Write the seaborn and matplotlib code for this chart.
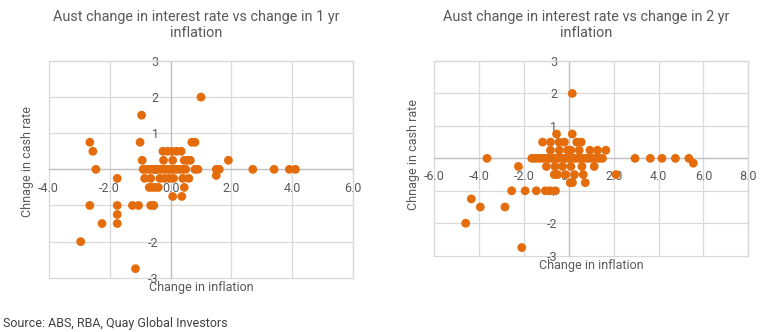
import matplotlib
matplotlib.use("Agg")
import matplotlib.pyplot as plt
import seaborn as sns
import pandas as pd

# ---------------- data ----------------
titles = ["Aust change in interest rate vs change in 1 yr\ninflation",
          "Aust change in interest rate vs change in 2 yr\ninflation"]
x_label = "Change in inflation"
y_label = "Chnage in cash rate"
source = "Source: ABS, RBA, Quay Global Investors"

x_ticks_1 = [-4.0, -2.0, 0.0, 2.0, 4.0, 6.0]
x_ticks_2 = [-6.0, -4.0, -2.0, 0.0, 2.0, 4.0, 6.0, 8.0]
y_ticks = [-3, -2, -1, 0, 1, 2, 3]

# 1 yr inflation change vs cash rate change
infl_1yr = [1.0, -0.95, -2.65, -2.55, -2.45, -1.0, -0.93, -1.75, -2.65, -1.75,
            -1.75, -1.75, -2.25, -2.95, -1.15, -1.25, -1.05, -0.65, -0.55, 0.7,
            0.8, 1.9, 1.5, 1.5, 1.6, 2.7, 3.4, 3.9, 4.1, 0.8, 0.9,
            -0.9, -0.8, -0.7, -0.6, -0.5, -0.4, -0.3, -0.2, -0.1, 0.0, 0.1, 0.2, 0.3, 0.4, 0.5,
            -0.25, -0.1, 0.05, 0.2, 0.35,
            -0.23, 0.07, 0.45, 0.55, 0.65,
            -0.85, -0.65, -0.35, -0.2, -0.05, 0.1, 0.4, 0.6,
            -0.7, -0.6, -0.5, -0.4, 0.45,
            0.07, 0.37]
cash_1yr = [2.0, 1.5, 0.75, 0.5, 0.0, 0.75, 0.25, -0.25, -1.0, -1.0,
            -1.25, -1.5, -1.5, -2.0, -2.75, -1.0, -1.0, -1.0, -1.0, 0.75,
            0.75, 0.25, -0.17, 0.0, 0.0, 0.0, 0.0, 0.0, 0.0, 0.0, 0.0,
            0, 0, 0, 0, 0, 0, 0, 0, 0, 0, 0, 0, 0, 0, 0,
            0.5, 0.5, 0.5, 0.5, 0.5,
            0.25, 0.25, 0.25, 0.25, 0.25,
            -0.25, -0.25, -0.25, -0.25, -0.25, -0.25, -0.25, -0.25,
            -0.5, -0.5, -0.5, -0.5, -0.5,
            -0.75, -0.75]

# 2 yr inflation change vs cash rate change
infl_2yr = [0.15, -3.65, -2.25, -4.35, -3.95, -2.85, -4.6, -2.1,
            -2.55, -1.95, -1.45, -1.05, -0.85, -0.6,
            2.1,
            2.95, 3.63, 4.15, 4.75, 5.35,
            5.55,
            -0.55, 0.15,
            -1.17, -0.82, -0.44, -0.2, 0.35, 0.55,
            -0.82, -0.43, -0.06, 0.09, 0.46, 0.94, 1.28, 1.65,
            -1.65, -1.5, -1.35, -1.2, -1.05, -0.9, -0.75, -0.6, -0.45, -0.3, -0.15,
            0.0, 0.15, 0.3, 0.45, 0.6, 0.75, 0.9, 1.05, 1.2, 1.35, 1.5,
            -1.0, -0.62, -0.28, 0.09, 0.58, 1.13,
            -0.65, -0.5, -0.15, 0.25, 0.64,
            0.06, 0.16, 0.73]
cash_2yr = [2.0, 0.0, -0.25, -1.25, -1.5, -1.5, -2.0, -2.75,
            -1.0, -1.0, -1.0, -1.0, -1.0, -1.0,
            -0.5,
            0.0, 0.0, 0.0, 0.0, 0.0,
            -0.15,
            0.75, 0.75,
            0.5, 0.5, 0.5, 0.5, 0.5, 0.5,
            0.25, 0.25, 0.25, 0.25, 0.25, 0.25, 0.25, 0.25,
            0, 0, 0, 0, 0, 0, 0, 0, 0, 0, 0,
            0, 0, 0, 0, 0, 0, 0, 0, 0, 0, 0,
            -0.25, -0.25, -0.25, -0.25, -0.25, -0.25,
            -0.5, -0.5, -0.5, -0.5, -0.5,
            -0.75, -0.75, -0.75]

# ---------------- style ----------------
sns.set_theme(style="white")
plt.rcParams["font.family"] = ["Roboto", "DejaVu Sans"]
plt.rcParams["axes.unicode_minus"] = False

DOT = "#E46C0A"
GRID = "#d9d9d9"
AXLINE = "#bfbfbf"
TXT = "#595959"

W, H = 767, 332
fig = plt.figure(figsize=(W / 100, H / 100), dpi=100)
fig.patch.set_facecolor("white")


def px_axes(left, top, right, bottom):
    return fig.add_axes([left / W, 1 - bottom / H, (right - left) / W, (bottom - top) / H])


def draw(ax, xs, ys, xticks, xlab_pos, ylab_pos, ypad):
    df = pd.DataFrame({"infl": xs, "cash": ys})
    sns.scatterplot(data=df, x="infl", y="cash", ax=ax, color=DOT, s=40,
                    edgecolor="none", linewidth=0, zorder=3, legend=False)
    ax.set_xlim(xticks[0], xticks[-1])
    ax.set_ylim(y_ticks[0], y_ticks[-1])
    ax.set_xticks(xticks)
    ax.set_xticklabels([f"{t:.1f}" for t in xticks])
    ax.set_yticks(y_ticks)
    ax.set_yticklabels([str(t) for t in y_ticks])
    for t in xticks:
        ax.axvline(t, color=GRID, lw=0.9, zorder=0.5, clip_on=False)
    for t in y_ticks:
        ax.axhline(t, color=GRID, lw=0.9, zorder=0.5, clip_on=False)
    for side in ("top", "right"):
        ax.spines[side].set_color(GRID)
        ax.spines[side].set_linewidth(0.9)
    ax.spines["left"].set_position(("data", 0))
    ax.spines["bottom"].set_position(("data", 0))
    for side in ("left", "bottom"):
        ax.spines[side].set_color(AXLINE)
        ax.spines[side].set_linewidth(0.9)
        ax.spines[side].set_zorder(0.6)
    ax.tick_params(axis="x", length=0, labelsize=9, colors=TXT, pad=ypad)
    ax.tick_params(axis="y", length=0, labelsize=9, colors=TXT, pad=8.5)
    ax.set_xlabel("")
    ax.set_ylabel("")
    ax.text(xlab_pos[0], xlab_pos[1], x_label, transform=ax.transAxes,
            ha="center", va="center", fontsize=9, color=TXT)
    ax.text(ylab_pos[0], ylab_pos[1], y_label, transform=ax.transAxes,
            ha="center", va="center", rotation=90, fontsize=9, color=TXT)


ax1 = px_axes(48.7, 61, 353.3, 277.7)
draw(ax1, infl_1yr, cash_1yr, x_ticks_1, (0.5, -0.046), (-0.068, 0.535), 9.0)

ax2 = px_axes(434.3, 61, 748.3, 255.7)
draw(ax2, infl_2yr, cash_2yr, x_ticks_2, (0.501, -0.048), (-0.066, 0.522), 8.5)

fig.text(195.8 / W, 1 - 25 / H, titles[0], ha="center", va="center",
         fontsize=10.4, color=TXT, linespacing=1.2)
fig.text(585.8 / W, 1 - 25 / H, titles[1], ha="center", va="center",
         fontsize=10.4, color=TXT, linespacing=1.2)
fig.text(3 / W, 1 - 324 / H, source, ha="left", va="center", fontsize=9, color="#404040")

fig.savefig("out.png", dpi=100, facecolor="white")
